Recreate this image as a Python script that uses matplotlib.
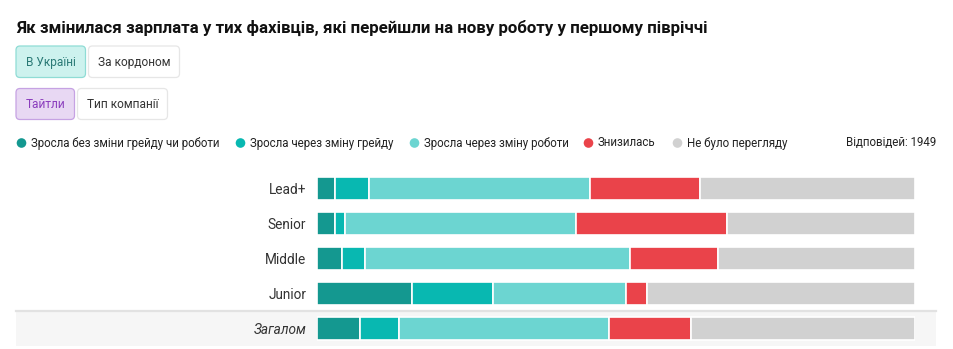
import numpy as np
import matplotlib
matplotlib.use("Agg")
import matplotlib.pyplot as plt
from matplotlib.patches import FancyBboxPatch, Rectangle

# survey shares, % of respondents per title
titles = ["Lead+", "Senior", "Middle", "Junior", "Загалом"]
grew_same_job = [3.1, 3.1, 4.2, 15.9, 7.2]
grew_new_grade = [5.6, 1.6, 3.9, 13.5, 6.6]
grew_new_job = [36.9, 38.6, 44.3, 22.2, 35.0]
decreased = [18.5, 25.3, 14.7, 3.5, 13.8]
no_review = [35.9, 31.4, 32.9, 44.9, 37.4]

series_names = ["Зросла без зміни грейду чи роботи", "Зросла через зміну грейду",
                "Зросла через зміну роботи", "Знизилась", "Не було перегляду"]
series_colors = ["#149890", "#08b8b1", "#6cd5d1", "#ea434a", "#d1d1d1"]
responses = 1949

title_text = "Як змінилася зарплата у тих фахівців, які перейшли на нову роботу у першому півріччі"

W, H = 954, 349
plt.rcParams["font.family"] = ["Roboto", "DejaVu Sans"]

fig = plt.figure(figsize=(W / 100, H / 100), dpi=100)

# background layer in pixel coordinates for the header, buttons and legend
bg = fig.add_axes([0, 0, 1, 1])
bg.set_xlim(0, W)
bg.set_ylim(H, 0)
bg.axis("off")

bg.text(16, 28, title_text, fontsize=12.2, fontweight="bold", color="#111111",
        ha="left", va="center")


def button(x0, y0, w, h, label, face, edge, tcolor):
    bg.add_patch(FancyBboxPatch((x0, y0), w, h, boxstyle="round,pad=0,rounding_size=4",
                                facecolor=face, edgecolor=edge, linewidth=0.9))
    bg.text(x0 + w / 2, y0 + h / 2 + 0.5, label, fontsize=8.6, color=tcolor,
            ha="center", va="center")


button(16, 46, 69.5, 31.5, "В Україні", "#cdf2ee", "#8fdcd5", "#2a7a76")
button(88.5, 46, 91, 31.5, "За кордоном", "white", "#e6e6e6", "#333333")
button(16, 88.5, 58.5, 31, "Тайтли", "#e8d8f3", "#c6a2e3", "#8b3dbd")
button(77.5, 88.5, 90, 31, "Тип компанії", "white", "#e6e6e6", "#333333")

# legend row
leg_text_x = [31, 250, 424, 598, 687]
for name, color, tx in zip(series_names, series_colors, leg_text_x):
    bg.scatter(tx - 9.5, 143, s=48, color=color, edgecolors="none")
    bg.text(tx, 143, name, fontsize=8.3, color="#222222", ha="left", va="center")
bg.text(936, 143, f"Відповідей: {responses}", fontsize=8.3, color="#222222",
        ha="right", va="center")

# shaded band behind the overall row
bg.add_patch(Rectangle((16, 311), 920, 34.5, facecolor="#f6f6f6", edgecolor="none"))
bg.plot([16, 936], [310.8, 310.8], color="#e2e2e2", linewidth=1.6)

# stacked bars
left_px, right_px = 316.7, 915.3
top_px, bot_px = 171, 346
ax = fig.add_axes([left_px / W, 1 - bot_px / H, (right_px - left_px) / W, (bot_px - top_px) / H])
ax.patch.set_alpha(0)

y = np.arange(len(titles))
data = [grew_same_job, grew_new_grade, grew_new_job, decreased, no_review]
start = np.zeros(len(titles))
for vals, color in zip(data, series_colors):
    vals = np.array(vals)
    ax.barh(y, vals, left=start, height=0.68, color=color, edgecolor="white", linewidth=1.2)
    start += vals

ax.set_xlim(0, 100)
ax.set_ylim(len(titles) - 0.5, -0.5)
ax.set_yticks(y)
ax.set_yticklabels(titles, fontsize=9.8, color="#333333")
ax.get_yticklabels()[-1].set_style("italic")
ax.tick_params(axis="y", length=0, pad=7.5)
ax.set_xticks([])
for s in ax.spines.values():
    s.set_visible(False)

fig.savefig("out.png", dpi=100)
